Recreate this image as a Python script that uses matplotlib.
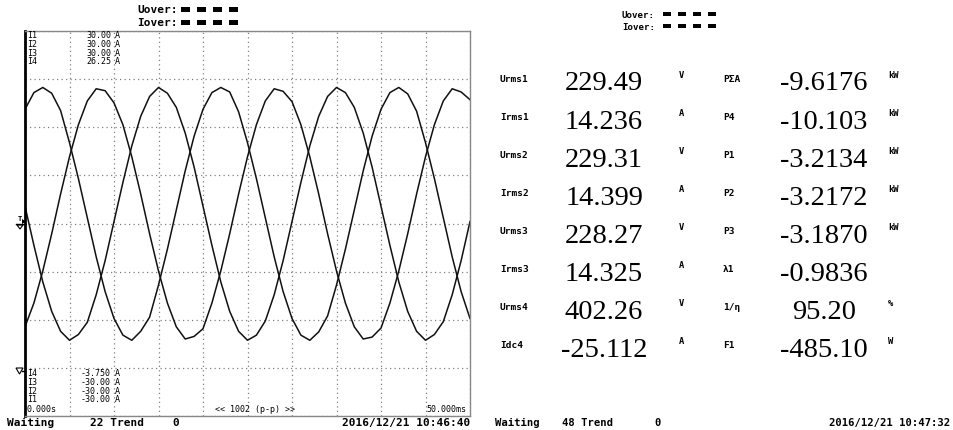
import matplotlib
matplotlib.use("Agg")
import matplotlib.pyplot as plt
from matplotlib.patches import Rectangle, Polygon
import numpy as np

# ---------------- data ----------------
time_ms = [0, 1, 2, 3, 4, 5, 6, 7, 8, 9, 10, 11, 12, 13, 14, 15, 16, 17, 18, 19, 20,
           21, 22, 23, 24, 25, 26, 27, 28, 29, 30, 31, 32, 33, 34, 35, 36, 37, 38, 39, 40,
           41, 42, 43, 44, 45, 46, 47, 48, 49, 50]
i_a = [17.8, 20.4, 21.2, 20.3, 17.6, 12.6, 7.0, 0.9, -5.2, -10.6, -14.8, -17.4, -18.2, -16.8,
       -14.6, -9.6, -4.0, 2.1, 8.2, 13.6, 17.8, 20.4, 21.2, 20.5, 17.4, 12.6, 7.0, 0.9, -5.2,
       -10.6, -14.8, -17.4, -18.2, -16.9, -14.4, -9.6, -4.0, 2.1, 8.2, 13.6, 17.8, 20.4, 21.2,
       20.2, 17.5, 12.6, 7.0, 0.9, -5.2, -10.6, -14.8]
i_b = [-16.1, -12.4, -7.4, -1.6, 4.6, 10.4, 15.4, 19.1, 21.0, 20.7, 18.8, 15.4, 10.4, 4.6,
       -1.6, -7.4, -12.4, -16.1, -18.0, -17.6, -16.4, -12.4, -7.4, -1.6, 4.6, 10.4, 15.4, 19.1,
       21.0, 20.6, 19.0, 15.4, 10.4, 4.6, -1.6, -7.4, -12.4, -16.1, -18.0, -17.7, -16.3, -12.4,
       -7.4, -1.6, 4.6, 10.4, 15.4, 19.1, 21.0, 20.5, 19.3]
i_c = [2.7, -3.4, -9.1, -13.7, -16.8, -18.2, -17.3, -15.4, -11.1, -5.8, 0.3, 6.4, 12.1, 16.7,
       19.8, 21.2, 20.3, 18.1, 14.1, 8.8, 2.7, -3.4, -9.1, -13.7, -16.8, -18.2, -17.4, -15.2,
       -11.1, -5.8, 0.3, 6.4, 12.1, 16.7, 19.8, 21.2, 20.4, 18.1, 14.1, 8.8, 2.7, -3.4, -9.1,
       -13.7, -16.8, -18.2, -17.3, -15.3, -11.1, -5.8, 0.3]

top_names = ["I1", "I2", "I3", "I4"]
top_vals = ["30.00", "30.00", "30.00", "26.25"]
bot_names = ["I4", "I3", "I2", "I1"]
bot_vals = ["-3.750", "-30.00", "-30.00", "-30.00"]

left_labels = ["Urms1", "Irms1", "Urms2", "Irms2", "Urms3", "Irms3", "Urms4", "Idc4"]
left_values = ["229.49", "14.236", "229.31", "14.399", "228.27", "14.325", "402.26", "-25.112"]
left_units = ["V", "A", "V", "A", "V", "A", "V", "A"]
right_labels = ["PΣA", "P4", "P1", "P2", "P3", "λ1", "1/η", "F1"]
right_values = ["-9.6176", "-10.103", "-3.2134", "-3.2172", "-3.1870", "-0.9836", "95.20", "-485.10"]
right_units = ["kW", "kW", "kW", "kW", "kW", "", "%", "W"]

# ---------------- figure ----------------
W, H = 954, 431
fig = plt.figure(figsize=(W / 100, H / 100), dpi=100)
fig.patch.set_facecolor("white")

# scope axes
L, T, R, B = 25, 32, 470, 417
ax = fig.add_axes([L / W, (H - B) / H, (R - L) / W, (B - T) / H])
ax.set_xlim(0, 50)
ax.set_ylim(-30, 30)
ax.set_xticks(np.arange(0, 50.01, 5))
ax.set_yticks(np.arange(-30, 30.01, 7.5))
ax.tick_params(length=0, labelbottom=False, labelleft=False)
ax.grid(True, color="#808080", linestyle=(0, (1, 2.6)), linewidth=0.9)
for s in ["top", "right", "bottom"]:
    ax.spines[s].set_color("#888888")
    ax.spines[s].set_linewidth(1.0)
ax.spines["left"].set_color("black")
ax.spines["left"].set_linewidth(2.0)
for series in (i_a, i_b, i_c):
    ax.plot(time_ms, series, color="#111111", linewidth=1.1, solid_joinstyle="round")

# overlay in pixel coordinates
ov = fig.add_axes([0, 0, 1, 1], zorder=5)
ov.set_xlim(0, W)
ov.set_ylim(H, 0)
ov.axis("off")
ov.patch.set_alpha(0)

MONO = ["DejaVu Sans Mono", "DejaVu Sans"]


def txt(x, y, s, size=8, ha="left", weight="bold", family=MONO, va="center", color="black"):
    ov.text(x, y, s, fontsize=size, ha=ha, va=va, fontweight=weight, family=family, color=color)


# left header
txt(137, 10, "Uover:", 8)
txt(137, 23, "Iover:", 8)
for cy in (10, 23):
    for cx in (186, 202, 218, 234):
        ov.add_patch(Rectangle((cx - 4.5, cy - 2.5), 9, 5, color="black", lw=0))

# scope texts top-left
for k, (n, v) in enumerate(zip(top_names, top_vals)):
    y = 36 + 8.6 * k
    txt(27, y, n, 6, weight="normal")
    txt(111, y, v, 6, ha="right", weight="normal")
    txt(115, y, "A", 6, weight="normal")
for k, (n, v) in enumerate(zip(bot_names, bot_vals)):
    y = 373.5 + 8.8 * k
    txt(27, y, n, 6, weight="normal")
    txt(111, y, v, 6, ha="right", weight="normal")
    txt(115, y, "A", 6, weight="normal")
txt(27, 410, "0.000s", 6, weight="normal")
txt(466, 410, "50.000ms", 6, ha="right", weight="normal")
txt(255, 410, "<< 1002 (p-p) >>", 6, ha="center", weight="normal")

# left markers
txt(20, 219, "T", 5, ha="center", weight="bold")
ov.add_patch(Polygon([[22, 220], [26, 222.5], [22, 225]], closed=True, color="black", lw=0))
ov.plot([16, 25], [224.5, 224.5], color="black", lw=1)
ov.add_patch(Polygon([[17, 226], [23, 226], [20, 230]], closed=True, fill=False, ec="black", lw=0.8))
ov.plot([22, 25], [372, 372], color="black", lw=1)
ov.add_patch(Polygon([[16, 369], [23, 369], [19.5, 375]], closed=True, fill=False, ec="black", lw=0.8))

# left status bar
txt(7, 423, "Waiting", 8)
txt(90, 423, "22 Trend", 8)
txt(172, 423, "0", 8)
txt(470, 423, "2016/12/21 10:46:40", 8, ha="right")

# right header
txt(622, 15, "Uover:", 6.6)
txt(622, 27, "Iover:", 6.6)
for cy in (15, 27):
    for cx in (667, 682, 697, 712):
        ov.add_patch(Rectangle((cx - 4, cy - 2), 8, 4, color="black", lw=0))

# right measurement table
for k in range(8):
    yc = 84 + 38.1 * k
    txt(500, yc - 5, left_labels[k], 6.8)
    ov.text(604, yc, left_values[k], fontsize=20.5, ha="center", va="center",
            family=["Liberation Serif", "DejaVu Serif"])
    txt(679, yc - 9, left_units[k], 6.3)
    txt(723, yc - 5, right_labels[k], 6.8)
    ov.text(824, yc, right_values[k], fontsize=20.5, ha="center", va="center",
            family=["Liberation Serif", "DejaVu Serif"])
    if right_units[k]:
        txt(888, yc - 9, right_units[k], 6.3)

# right status bar
txt(495, 423, "Waiting", 7.6)
txt(562, 423, "48 Trend", 7.6)
txt(654, 423, "0", 7.6)
txt(950, 423, "2016/12/21 10:47:32", 7.6, ha="right")

fig.savefig("out.png", dpi=100, facecolor="white")
